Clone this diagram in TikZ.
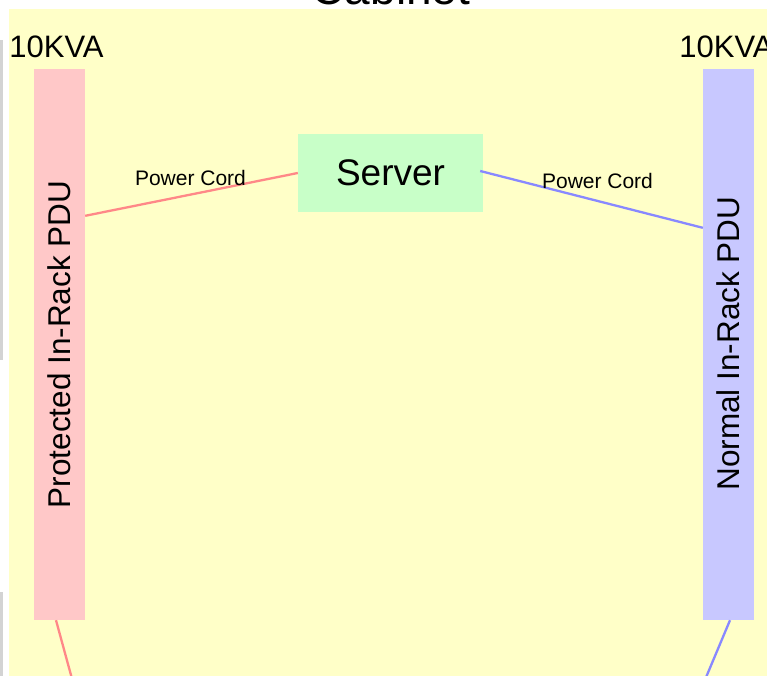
\documentclass[tikz,border=0pt]{standalone}
\usepackage{fontspec}
\setmainfont{Liberation Sans}
\usetikzlibrary{calc}
\definecolor{cabinetbg}{RGB}{255,255,200}
\definecolor{protfill}{RGB}{255,200,200}
\definecolor{protline}{RGB}{255,136,136}
\definecolor{normfill}{RGB}{200,200,255}
\definecolor{normline}{RGB}{136,136,255}
\definecolor{srvfill}{RGB}{200,255,200}
\definecolor{edgegray}{RGB}{211,211,211}
\newcommand{\fsz}[1]{\fontsize{#1}{#1}\selectfont}
\begin{document}
\begin{tikzpicture}[x=1pt,y=-1pt,
  pdubox/.style={inner sep=0pt, minimum width=51pt, minimum height=551pt},
  pdutext/.style={rotate=90, inner sep=0pt, font=\fsz{31.5}},
  ratingtext/.style={anchor=base, inner sep=0pt, font=\fsz{31}},
  cordtext/.style={inner sep=0pt, font=\fsz{21}},
  cordline/.style={line width=2.3pt},
]
\useasboundingbox (0,0) rectangle (767,675);
\clip (0,0) rectangle (767,675);

% cabinet area and its title
\fill[cabinetbg] (9,9) rectangle (780,700);
\node[anchor=base, inner sep=0pt, font=\fsz{46}] (title) at (391,4) {Cabinet};

% neighbouring outline at the left edge
\fill[edgegray] (0,40) rectangle (3,360);
\fill[edgegray] (0,592) rectangle (3,700);

% in-rack PDUs
\node[pdubox, fill=protfill] (lpdu) at (59.5,344.5) {};
\node[pdutext] (ltext) at (lpdu.center) {Protected In-Rack PDU};
\node[ratingtext] (lrating) at ($(lpdu.north)+(-3,-11)$) {10KVA};

\node[pdubox, fill=normfill] (rpdu) at (728.5,344.5) {};
\node[pdutext] (rtext) at ($(rpdu.center)+(0,-1)$) {Normal In-Rack PDU};
\node[ratingtext] (rrating) at ($(rpdu.north)+(-2,-11)$) {10KVA};

% server
\node[fill=srvfill, inner sep=0pt, minimum width=185pt, minimum height=78pt,
      font=\fsz{37}] (server) at (390.5,173) {Server};

% power cords
\draw[cordline, protline] ($(lpdu.north east)+(0,147)$) -- (server.west);
\draw[cordline, normline] ($(server.east)+(-3,-2)$) -- ($(rpdu.north west)+(0,159)$);
\node[cordtext] (lcord) at (190.5,178) {Power Cord};
\node[cordtext] (rcord) at (597.5,181) {Power Cord};

% feeds leaving the cabinet
\coordinate (lfeed) at (77.8,700);
\coordinate (rfeed) at (696.5,700);
\draw[cordline, protline] ($(lpdu.south)+(-3.5,0)$) -- (lfeed);
\draw[cordline, normline] ($(rpdu.south)+(1.5,0)$) -- (rfeed);
\end{tikzpicture}
\end{document}
